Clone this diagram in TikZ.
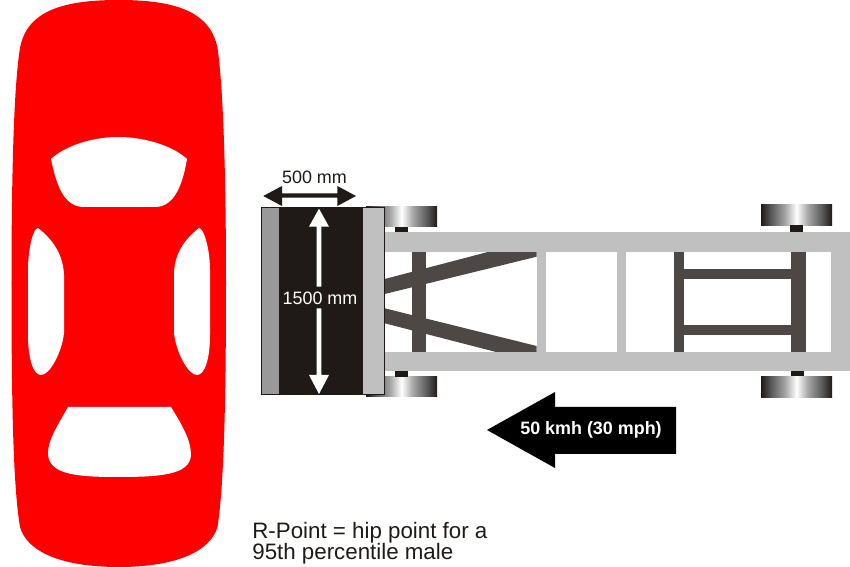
\documentclass[tikz,border=0pt]{standalone}
\usepackage{fontspec}
\setmainfont{Liberation Sans}
\definecolor{carred}{HTML}{FF0000}
\definecolor{railgrey}{HTML}{C0C0C0}
\definecolor{bardark}{HTML}{4D4846}
\definecolor{blackish}{HTML}{1F1A17}
\definecolor{stripgrey}{HTML}{999999}
\pgfdeclarehorizontalshading{wheelshade}{100bp}{color(0bp)=(blackish); color(25bp)=(blackish); color(32bp)=(black!65); color(42bp)=(black!35); color(50bp)=(white); color(58bp)=(black!35); color(68bp)=(black!65); color(75bp)=(blackish); color(100bp)=(blackish)}
\tikzset{
  rail/.style={fill=railgrey,draw=none},
  bar/.style={fill=bardark,draw=none},
  stub/.style={fill=blackish,draw=none},
  wheel/.style={shading=wheelshade,draw=none},
  window/.style={fill=white,draw=none},
  dimtext/.style={font=\fontsize{10.2pt}{12pt}\selectfont,inner sep=0pt},
}
\begin{document}
\begin{tikzpicture}[x=0.02cm,y=-0.02cm]
\useasboundingbox (0,0) rectangle (850,567);
\fill[white] (0,0) rectangle (850,567);
% car
\fill[carred] (118.7,0) .. controls (65,0) and (27,10) .. (20,48)
  .. controls (14,85) and (11.5,170) .. (11.5,283)
  .. controls (11.5,400) and (13,485) .. (20,527)
  .. controls (27,552) and (62,567) .. (118.7,567)
  .. controls (175,567) and (210,552) .. (217.5,527)
  .. controls (224,485) and (226,400) .. (226,283)
  .. controls (226,170) and (223,85) .. (217.5,48)
  .. controls (210,10) and (172,0) .. (118.7,0) -- cycle;
\fill[window] (51,159) .. controls (65,146) and (92,137) .. (118,137)
  .. controls (145,137) and (173,146) .. (187,159)
  .. controls (183,183) and (175,207) .. (155,207)
  -- (84,207) .. controls (63,207) and (56,183) .. (51,159) -- cycle;
\fill[window] (38,228) .. controls (48,236) and (63,250) .. (64,275)
  -- (64,333) .. controls (62,352) and (50,375) .. (41,375)
  .. controls (33,375) and (28,358) .. (28,335)
  -- (28,270) .. controls (28,250) and (33,228) .. (38,228) -- cycle;
\fill[window] (199,228) .. controls (189,236) and (174,250) .. (174,275)
  -- (174,333) .. controls (176,352) and (188,375) .. (197,375)
  .. controls (205,375) and (210,358) .. (210,335)
  -- (210,270) .. controls (210,250) and (204,228) .. (199,228) -- cycle;
\fill[window] (68,407) -- (171,407) .. controls (182,425) and (191,440) .. (191,455)
  .. controls (190,475) and (160,477) .. (118,477)
  .. controls (78,477) and (48,475) .. (48,453)
  .. controls (48,440) and (58,425) .. (68,407) -- cycle;
% wheels
\fill[wheel] (366,206.7) rectangle (437,227);
\fill[wheel] (366,376.7) rectangle (437,396.7);
\fill[wheel] (761,205) rectangle (832,225.3);
\fill[wheel] (761,376.3) rectangle (832,397.3);
% axle stubs
\fill[stub] (394.7,227.5) rectangle (407.7,232.3);
\fill[stub] (394.7,371.3) rectangle (408,376.7);
\fill[stub] (790,225.3) rectangle (802.7,232.3);
\fill[stub] (791,371.3) rectangle (804,376.3);
% dark chassis members
\fill[bar] (411.7,251) rectangle (426,352.5);
\fill[bar] (384.7,279) -- (491.7,251) -- (536.7,251) -- (536.7,256.7) -- (384.7,294) -- cycle;
\fill[bar] (384.7,308.3) -- (536.7,346) -- (536.7,352.5) -- (498,352.5) -- (384.7,323.3) -- cycle;
\fill[bar] (674,251) rectangle (684,352.5);
\fill[bar] (790.7,251) rectangle (805.7,352.5);
\fill[bar] (684,269.3) rectangle (790.7,279.3);
\fill[bar] (684,325) rectangle (790.7,334.7);
% light frame
\fill[rail] (385,232.3) rectangle (850,251.7);
\fill[rail] (385,352) rectangle (850,371.3);
\fill[rail] (830.7,251) rectangle (850,352.5);
\fill[rail] (536.7,251) rectangle (546,352.5);
\fill[rail] (616.7,251) rectangle (626.3,352.5);
% barrier
\fill[blackish] (260.7,207.5) rectangle (385,395);
\fill[stripgrey] (261.5,208.2) rectangle (278.5,394.2);
\fill[railgrey] (362.5,208.2) rectangle (384.2,394.2);
% 500 mm arrow
\fill[blackish] (263.3,196) -- (282,186) -- (282,193.3) -- (337.3,193.3) -- (337.3,186) -- (356,196) -- (337.3,206) -- (337.3,197.7) -- (282,197.7) -- (282,206) -- cycle;
\node[dimtext,text=blackish] (lblwidth) at (314.5,177) {500 mm};
% 1500 mm arrows
\fill[white] (319,208.7) -- (329,226.7) -- (321.3,226.7) -- (321.3,286.7) -- (316.7,286.7) -- (316.7,226.7) -- (309,226.7) -- cycle;
\fill[white] (319,394) -- (329,375) -- (321.3,375) -- (321.3,308.3) -- (316.7,308.3) -- (316.7,375) -- (309,375) -- cycle;
\node[dimtext,text=white] (lbllength) at (320,298) {1500 mm};
% speed arrow
\fill[black] (487,430) -- (555,392) -- (555,407) -- (676,407) -- (676,454) -- (555,454) -- (555,468) -- cycle;
\node[inner sep=0pt,text=white,font=\fontsize{10.2pt}{12pt}\selectfont\bfseries] (lblspeed) at (591,430) {50 kmh (30 mph)};
% note
\node[inner sep=0pt,anchor=north west,align=left,text=blackish,font=\fontsize{12.7pt}{12pt}\selectfont] (lblnote) at (252,522) {R-Point = hip point for a\\95th percentile male};
\end{tikzpicture}
\end{document}
